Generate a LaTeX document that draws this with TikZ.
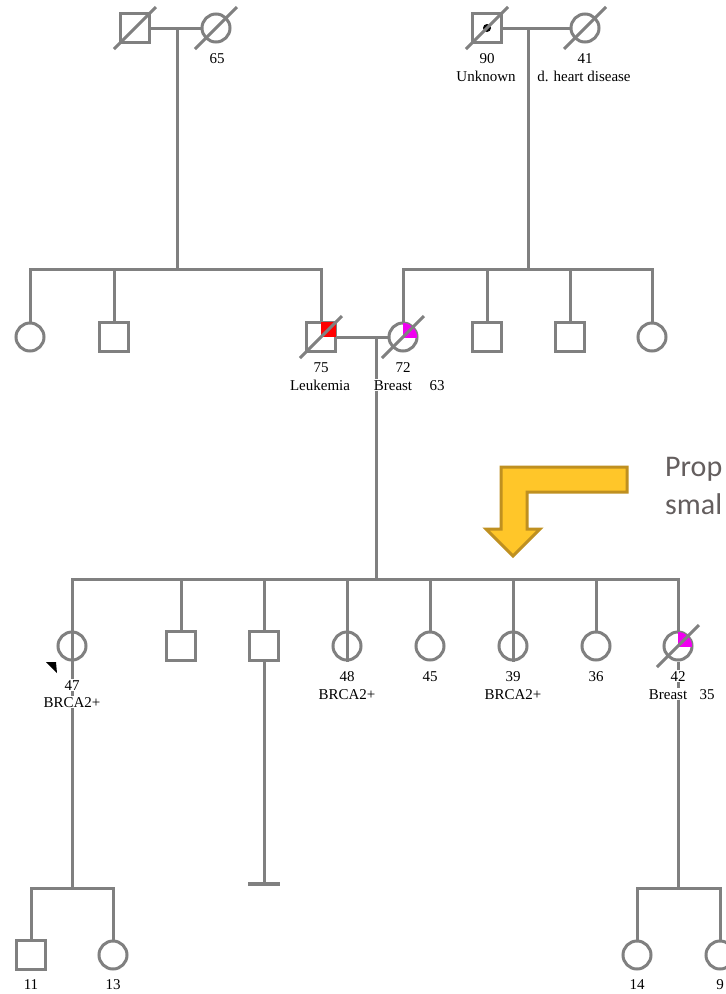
\documentclass[tikz,border=0pt]{standalone}
\usepackage{fontspec}
\setmainfont{Liberation Serif}
\newfontfamily\calib{Carlito}
\definecolor{pedgray}{RGB}{128,128,128}
\definecolor{arrowfill}{RGB}{255,198,41}
\definecolor{arrowdraw}{RGB}{191,144,32}
\definecolor{notegray}{RGB}{100,94,94}
\definecolor{pedred}{RGB}{255,0,0}
\definecolor{pedmag}{RGB}{240,0,240}
\begin{document}
\begin{tikzpicture}[x=1pt,y=-1pt,
  pedline/.style={draw=pedgray, line width=3pt},
  barline/.style={draw=pedgray, line width=4pt},
  male/.style={rectangle, draw=pedgray, line width=3pt, minimum size=29.5pt, inner sep=0pt},
  female/.style={circle, draw=pedgray, line width=3pt, minimum size=28pt, inner sep=0pt},
  lbl/.style={font=\fontsize{15}{17}\selectfont, inner sep=0.8pt, text height=10pt, text depth=0pt},
  wlbl/.style={lbl, fill=white},
  arrtxt/.style={font=\calib\fontsize{30}{36}\selectfont, text=notegray, inner sep=0pt}
]
\fill[white] (0,0) rectangle (726,994);
\useasboundingbox (0,0) rectangle (726,994);

% generation 1
\node[male] (g1a) at (135,28) {};
\node[female] (g1b) at (216,28) {};
\node[male] (g1c) at (487,28) {};
\node[female] (g1d) at (585,28) {};
% generation 2
\node[female] (g2a) at (30,337) {};
\node[male] (g2b) at (114,337) {};
\node[male] (g2c) at (321,337) {};
\node[female] (g2d) at (403,337) {};
\node[male] (g2e) at (487,337) {};
\node[male] (g2f) at (570,337) {};
\node[female] (g2g) at (652,337) {};
% generation 3
\node[female] (g3a) at (72,646) {};
\node[male] (g3b) at (181,646) {};
\node[male] (g3c) at (264,646) {};
\node[female] (g3d) at (347,646) {};
\node[female] (g3e) at (430,646) {};
\node[female] (g3f) at (513,646) {};
\node[female] (g3g) at (596,646) {};
\node[female] (g3h) at (678,646) {};
% generation 4
\node[male] (g4a) at (31,955) {};
\node[female] (g4b) at (113,955) {};
\node[female] (g4c) at (637,955) {};
\node[female] (g4d) at (720,955) {};

% helper coordinates
\coordinate (u1) at (177,28);
\coordinate (u2) at (528,28);
\coordinate (u3) at (376,337);
\coordinate (sib2) at (0,269);
\coordinate (sib3) at (0,579);
\coordinate (sib4) at (0,888);
\coordinate (bar) at (264,884);

% affection fills
\fill[pedred] (g2c.center) rectangle ([xshift=-1.5pt,yshift=-1.5pt]g2c.north east);
\begin{scope}
  \clip (g2d.center) rectangle ([xshift=3pt,yshift=3pt]g2d.north east);
  \fill[pedmag] (g2d.center) circle[radius=14pt];
\end{scope}
\begin{scope}
  \clip (g3h.center) rectangle ([xshift=3pt,yshift=3pt]g3h.north east);
  \fill[pedmag] (g3h.center) circle[radius=14pt];
\end{scope}
\fill[black] (g1c.center) circle[radius=4pt];

% couples and descents
\draw[pedline] (g1a.east) -- (g1b.west);
\draw[pedline] (g1c.east) -- (g1d.west);
\draw[pedline] (u1) -- (u1 |- sib2);
\draw[pedline] (u2) -- (u2 |- sib2);
\draw[pedline] (g2a.north) |- (g2c.north |- sib2) -- (g2c.north);
\draw[pedline] (g2b.north) -- (g2b.north |- sib2);
\draw[pedline] (g2d.north) |- (g2g.north |- sib2) -- (g2g.north);
\draw[pedline] (g2e.north) -- (g2e.north |- sib2);
\draw[pedline] (g2f.north) -- (g2f.north |- sib2);
\draw[pedline] (g2c.east) -- (g2d.west);
\draw[pedline] (u3) -- (u3 |- sib3);
\draw[pedline] (g3a |- sib4) -- (g3a |- sib3) -- (g3h |- sib3) -- (g3h.north);
\draw[pedline] (g3b.north) -- (g3b |- sib3);
\draw[pedline] (g3c.north) -- (g3c |- sib3);
\draw[pedline] (g3d.south) -- (g3d |- sib3);
\draw[pedline] (g3e.north) -- (g3e |- sib3);
\draw[pedline] (g3f.south) -- (g3f |- sib3);
\draw[pedline] (g3g.north) -- (g3g |- sib3);
\draw[pedline] (g3c.south) -- (bar);
\draw[barline] (bar) +(-16,0) -- +(16,0);
\draw[pedline] (g3h.south) -- (g3h |- sib4);
\draw[pedline] (g4a.north) |- (g4b.north |- sib4) -- (g4b.north);
\draw[pedline] (g4c.north) |- (g4d.north |- sib4) -- (g4d.north);

% deceased slashes
\foreach \n in {g1a,g1b,g1c,g1d,g2c,g2d,g3h}
  \draw[pedline] (\n) ++(-21,21) -- ++(42,-42);

% proband arrow
\fill[black] (46,662) -- (56,662) -- (57,673) -- cycle;

% labels
\node[lbl] (l65) at (217,58) {65};
\node[lbl] (l90) at (487,58) {90};
\node[lbl] (lunk) at (486,76) {Unknown};
\node[lbl] (l41) at (585,58) {41};
\node[lbl] (lheart) at (584,76) {d. heart disease};
\node[lbl] (l75) at (321,367) {75};
\node[lbl] (lleuk) at (320,385) {Leukemia};
\node[lbl] (l72) at (403,367) {72};
\node[wlbl] (lbr1) at (393,385) {Breast};
\node[lbl] (l63) at (437,385) {63};
\node[wlbl] (l47) at (72,685) {47};
\node[wlbl] (lb47) at (72,702) {BRCA2+};
\node[lbl] (l48) at (347,676) {48};
\node[lbl] (lb48) at (347,694) {BRCA2+};
\node[lbl] (l45) at (430,676) {45};
\node[lbl] (l39) at (513,676) {39};
\node[lbl] (lb39) at (513,694) {BRCA2+};
\node[lbl] (l36) at (596,676) {36};
\node[wlbl] (l42) at (678,676) {42};
\node[wlbl] (lbr2) at (668,694) {Breast};
\node[lbl] (l35) at (707,694) {35};
\node[lbl] (l11) at (31,984) {11};
\node[lbl] (l13) at (113,984) {13};
\node[lbl] (l14) at (637,984) {14};
\node[lbl] (l9) at (720,984) {9};

% callout arrow and note
\filldraw[fill=arrowfill, draw=arrowdraw, line width=3pt, line join=miter]
  (501,467) -- (627,467) -- (627,492) -- (527,492) -- (527,529) -- (540,529)
  -- (513,556) -- (486,529) -- (501,529) -- cycle;
\node[arrtxt, anchor=base west] (note1) at (665,476) {Prop};
\node[arrtxt, anchor=base west] (note2) at (665,514) {smal};
\end{tikzpicture}
\end{document}
